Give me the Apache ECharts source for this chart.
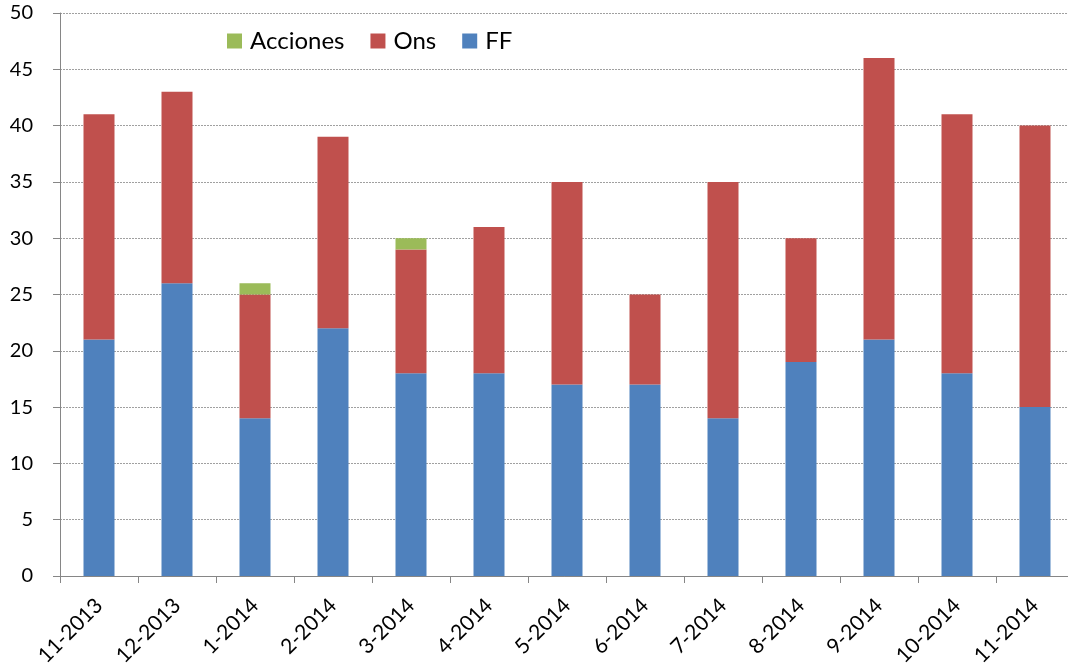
<!DOCTYPE html>
<html><head><meta charset="utf-8">
<script src="https://cdn.jsdelivr.net/npm/echarts@6/dist/echarts.min.js"></script>
<style>html,body{margin:0;padding:0;background:#fff}#c{width:1068px;height:666px}</style>
</head><body><div id="c"></div>
<script>
const categories = ['11-2013','12-2013','1-2014','2-2014','3-2014','4-2014','5-2014','6-2014','7-2014','8-2014','9-2014','10-2014','11-2014'];
const ff = [21, 26, 14, 22, 18, 18, 17, 17, 14, 19, 21, 18, 15];
const ons = [20, 17, 11, 17, 11, 13, 18, 8, 21, 11, 25, 23, 25];
const acciones = [0, 0, 1, 0, 1, 0, 0, 0, 0, 0, 0, 0, 0];
const yTicks = [0, 5, 10, 15, 20, 25, 30, 35, 40, 45, 50];

const font = 'Lato, "Open Sans", sans-serif';
const chart = echarts.init(document.getElementById('c'));
chart.setOption({
  animation: false,
  textStyle: {fontFamily: font},
  legend: {
    data: ['Acciones', 'Ons', 'FF'],
    left: 222, top: 24,
    itemWidth: 15, itemHeight: 15, itemGap: 26,
    icon: 'rect',
    textStyle: {fontSize: 24, color: '#000', fontFamily: font, padding: [0, 0, 0, 3]}
  },
  grid: {left: 60, top: 13, width: 1014, height: 563, containLabel: false, outerBoundsMode: 'none'},
  xAxis: {
    type: 'category', data: categories,
    axisLine: {lineStyle: {color: '#868686', width: 1}},
    axisTick: {show: true, length: 7, lineStyle: {color: '#868686'}},
    axisLabel: {rotate: 45, fontSize: 21, color: '#000', margin: 26, fontFamily: font}
  },
  yAxis: {
    type: 'value', min: 0, max: 50, interval: 5,
    axisLine: {show: true, lineStyle: {color: '#868686'}},
    axisTick: {show: true, length: 7, lineStyle: {color: '#868686'}},
    axisLabel: {fontSize: 20, color: '#000', margin: 27, fontFamily: font,
      formatter: v => yTicks.includes(v) ? String(v) : ''},
    splitLine: {lineStyle: {color: '#a0a0a0', type: [2, 1], width: 1}}
  },
  series: [
    {name: 'FF', type: 'bar', stack: 's', data: ff, barWidth: 31, itemStyle: {color: '#4f81bd'}},
    {name: 'Ons', type: 'bar', stack: 's', data: ons, barWidth: 31, itemStyle: {color: '#c0504d'}},
    {name: 'Acciones', type: 'bar', stack: 's', data: acciones, barWidth: 31, itemStyle: {color: '#9bbb59'}}
  ]
});
</script></body></html>
